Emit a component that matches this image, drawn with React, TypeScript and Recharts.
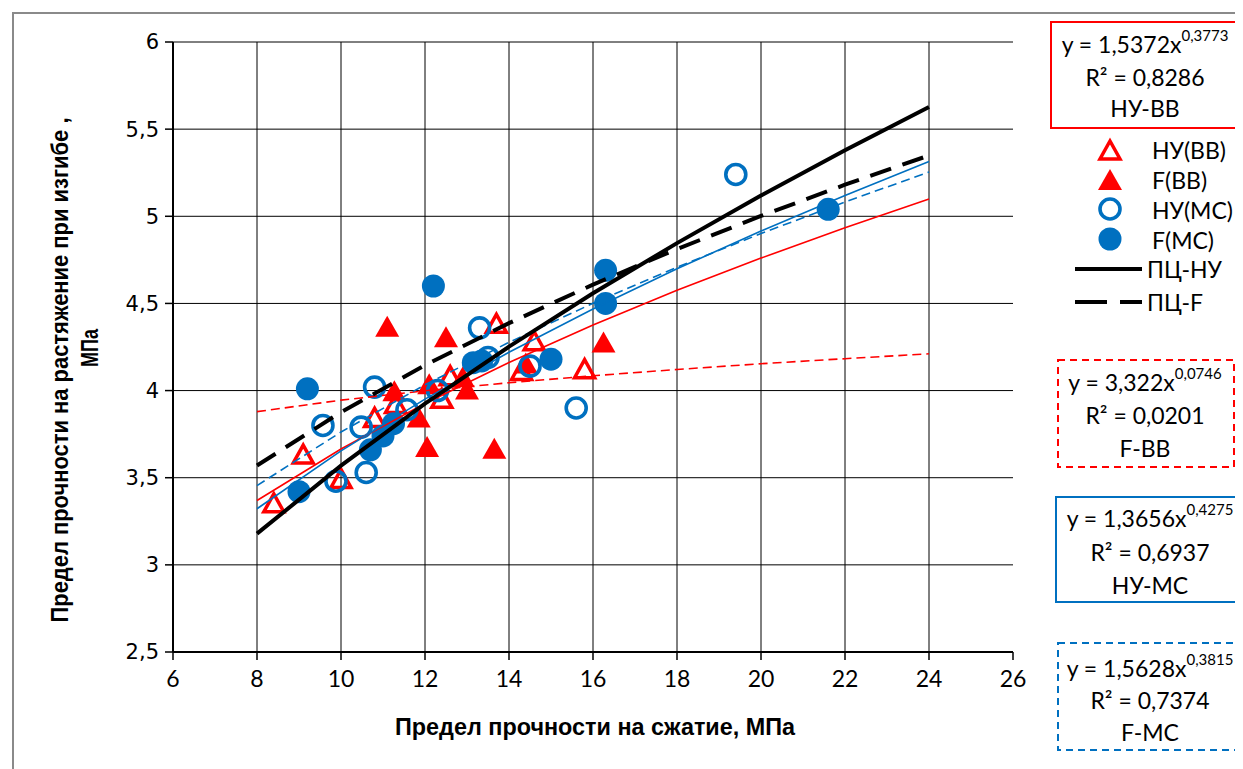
import React from 'react';
import { ScatterChart, Scatter, XAxis, YAxis, CartesianGrid, Label } from 'recharts';

// ---------- data ----------
const xTicks = [6, 8, 10, 12, 14, 16, 18, 20, 22, 24, 26];
const yTicks = [2.5, 3, 3.5, 4, 4.5, 5, 5.5, 6];
const xGrid = [8, 10, 12, 14, 16, 18, 20, 22, 24];
const yGrid = [3, 3.5, 4, 4.5, 5, 5.5, 6];

// НУ(ВВ) – open red triangles
const nuBB = [
  { x: 8.4, y: 3.35 }, { x: 9.1, y: 3.63 }, { x: 10.0, y: 3.49 }, { x: 10.8, y: 3.84 },
  { x: 11.3, y: 3.92 }, { x: 12.4, y: 3.95 }, { x: 12.6, y: 4.08 }, { x: 13.7, y: 4.38 },
  { x: 14.3, y: 4.11 }, { x: 14.6, y: 4.28 }, { x: 15.8, y: 4.12 },
];
// F(ВВ) – filled red triangles
const fBB = [
  { x: 11.1, y: 4.36 }, { x: 11.27, y: 3.99 }, { x: 11.85, y: 3.84 }, { x: 12.05, y: 3.67 },
  { x: 12.1, y: 4.03 }, { x: 12.5, y: 4.3 }, { x: 12.9, y: 4.07 }, { x: 13.0, y: 4.0 },
  { x: 13.65, y: 3.66 }, { x: 14.4, y: 4.15 }, { x: 16.25, y: 4.27 },
];
// НУ(МС) – open blue circles
const nuMC = [
  { x: 9.57, y: 3.8 }, { x: 9.88, y: 3.48 }, { x: 10.48, y: 3.79 }, { x: 10.6, y: 3.53 },
  { x: 10.8, y: 4.02 }, { x: 11.57, y: 3.89 }, { x: 12.3, y: 4.0 }, { x: 13.3, y: 4.36 },
  { x: 13.5, y: 4.19 }, { x: 14.5, y: 4.14 }, { x: 15.6, y: 3.9 }, { x: 19.4, y: 5.24 },
];
// F(МС) – filled blue circles
const fMC = [
  { x: 9.0, y: 3.42 }, { x: 9.2, y: 4.01 }, { x: 10.7, y: 3.66 }, { x: 11.0, y: 3.74 },
  { x: 11.25, y: 3.81 }, { x: 12.2, y: 4.6 }, { x: 13.15, y: 4.16 }, { x: 13.35, y: 4.17 },
  { x: 15.0, y: 4.18 }, { x: 16.3, y: 4.5 }, { x: 16.3, y: 4.69 }, { x: 21.6, y: 5.04 },
];

// trend lines (values read along x = 8..24)
const trendX = [8, 10, 12, 14, 16, 18, 20, 22, 24];
const trendNuBB = [3.369, 3.665, 3.926, 4.161, 4.376, 4.575, 4.76, 4.934, 5.099];
const trendFBB = [3.879, 3.945, 3.999, 4.045, 4.085, 4.121, 4.154, 4.183, 4.211];
const trendNuMC = [3.322, 3.654, 3.951, 4.22, 4.468, 4.699, 4.915, 5.119, 5.314];
const trendFMC = [3.455, 3.762, 4.033, 4.277, 4.501, 4.708, 4.901, 5.082, 5.254];
const trendPcNu = [3.179, 3.569, 3.925, 4.252, 4.558, 4.846, 5.119, 5.379, 5.627];
const trendPcF = [3.57, 3.876, 4.145, 4.387, 4.608, 4.812, 5.002, 5.181, 5.349];

const toPts = (ys: number[]) => trendX.map((x, i) => ({ x, y: ys[i] }));

const RED = '#FF0000';
const BLUE = '#0070C0';
const TXT = "Lato, 'Open Sans', sans-serif";
const BOLD = "'Liberation Sans', Arial, sans-serif";

// ---------- shapes ----------
const OpenTri = (p: any) => (
  <path d={`M${p.cx},${p.cy - 10} L${p.cx + 10},${p.cy + 8} L${p.cx - 10},${p.cy + 8} Z`}
    fill="none" stroke={RED} strokeWidth={3.5} strokeLinejoin="miter" />
);
const FillTri = (p: any) => (
  <path d={`M${p.cx},${p.cy - 12} L${p.cx + 12},${p.cy + 9} L${p.cx - 12},${p.cy + 9} Z`} fill={RED} />
);
const OpenCirc = (p: any) => (
  <circle cx={p.cx} cy={p.cy} r={10} fill="none" stroke={BLUE} strokeWidth={3.6} />
);
const FillCirc = (p: any) => <circle cx={p.cx} cy={p.cy} r={11.5} fill={BLUE} />;
const NoDot = () => <g />;

const fmt = (v: number) => String(v).replace('.', ',');

const EqText = ({ x, y, a, b }: any) => (
  <text x={x} y={y} textAnchor="middle" dominantBaseline="central" fontFamily={TXT} fontSize={23} fill="#000">
    y = {a}x<tspan fontSize={15} dy={-9}>{b}</tspan>
  </text>
);

const Box = ({ x, y, w, h, color, dashed }: any) => (
  <rect x={x} y={y} width={w} height={h} fill="#fff" stroke={color} strokeWidth={2}
    strokeDasharray={dashed ? '7 5' : undefined} />
);

const T = ({ x, y, children, anchor = 'middle' }: any) => (
  <text x={x} y={y} textAnchor={anchor} dominantBaseline="central" fontFamily={TXT} fontSize={23} fill="#000">{children}</text>
);

const Overlay = () => (
  <svg width={1235} height={761} style={{ position: 'absolute', left: 0, top: 0, pointerEvents: 'none' }}>
    {/* box 1 */}
    <Box x={1043} y={14} w={189} h={106} color={RED} />
    <EqText x={1137} y={36} a="1,5372" b="0,3773" />
    <T x={1137} y={69}>R² = 0,8286</T>
    <T x={1137} y={100}>НУ-ВВ</T>

    {/* legend */}
    <OpenTri cx={1102} cy={143} />
    <T x={1144} y={142} anchor="start">НУ(ВВ)</T>
    <FillTri cx={1102} cy={173} />
    <T x={1144} y={172} anchor="start">F(ВВ)</T>
    <OpenCirc cx={1102} cy={201} />
    <T x={1144} y={202} anchor="start">НУ(МС)</T>
    <FillCirc cx={1102} cy={231} />
    <T x={1144} y={232} anchor="start">F(МС)</T>
    <line x1={1067} y1={261} x2={1134} y2={261} stroke="#000" strokeWidth={4} />
    <T x={1139} y={261} anchor="start">ПЦ-НУ</T>
    <line x1={1067} y1={294} x2={1134} y2={294} stroke="#000" strokeWidth={4} strokeDasharray="32 13" />
    <T x={1139} y={294} anchor="start">ПЦ-F</T>

    {/* box 2 */}
    <Box x={1050} y={352} w={176} h={107} color={RED} dashed />
    <EqText x={1137} y={374} a="3,322" b="0,0746" />
    <T x={1137} y={407}>R² = 0,0201</T>
    <T x={1137} y={440}>F-ВВ</T>

    {/* box 3 */}
    <Box x={1048} y={489} w={200} h={105} color={BLUE} />
    <EqText x={1142} y={510} a="1,3656" b="0,4275" />
    <T x={1142} y={544}>R² = 0,6937</T>
    <T x={1142} y={577}>НУ-МС</T>

    {/* box 4 */}
    <Box x={1050} y={635} w={200} h={107} color={BLUE} dashed />
    <EqText x={1142} y={660} a="1,5628" b="0,3815" />
    <T x={1142} y={692}>R² = 0,7374</T>
    <T x={1142} y={724}>F-МС</T>
  </svg>
);

export default function App() {
  return (
    <div style={{ position: 'relative', width: 1235, height: 761, background: '#fff', overflow: 'hidden' }}>
      <div style={{ position: 'absolute', left: 4, top: 4, width: 1300, height: 900, borderLeft: '2px solid #8a8a8a', borderTop: '2px solid #8a8a8a' }} />
      <ScatterChart width={1235} height={761} margin={{ top: 34, right: 230, bottom: 67, left: 100 }}>
        <CartesianGrid stroke="#000" strokeWidth={1} verticalValues={xGrid} horizontalValues={yGrid} />
        <XAxis type="number" dataKey="x" domain={[6, 26]} ticks={xTicks} interval={0}
          height={50} tickSize={8} tickMargin={11} allowDataOverflow
          axisLine={{ stroke: '#000', strokeWidth: 2 }} tickLine={{ stroke: '#000', strokeWidth: 1.5 }}
          tick={{ fill: '#000', fontSize: 23, fontFamily: TXT }}>
          <Label content={() => (
            <text x={587} y={719} textAnchor="middle" dominantBaseline="central" fontFamily={BOLD} fontWeight="bold"
              fontSize={23} fill="#000" textLength={400} lengthAdjust="spacingAndGlyphs">
              Предел прочности на сжатие, МПа
            </text>
          )} />
        </XAxis>
        <YAxis type="number" dataKey="y" domain={[2.5, 6]} ticks={yTicks} interval={0}
          width={65} tickSize={8} tickMargin={6} allowDataOverflow tickFormatter={fmt}
          axisLine={{ stroke: '#000', strokeWidth: 2 }} tickLine={{ stroke: '#000', strokeWidth: 1.5 }}
          tick={{ fill: '#000', fontSize: 21, fontFamily: "'DejaVu Sans', Verdana, sans-serif" }}>
          <Label content={() => (
            <g fontFamily={BOLD} fontWeight="bold" fontSize={23} fill="#000">
              <text x={52} y={362} textAnchor="middle" dominantBaseline="central" transform="rotate(-90 52 362)"
                textLength={505} lengthAdjust="spacingAndGlyphs">
                Предел прочности на растяжение при изгибе ,
              </text>
              <text x={82} y={340} textAnchor="middle" dominantBaseline="central" transform="rotate(-90 82 340)"
                textLength={38} lengthAdjust="spacingAndGlyphs">
                МПа
              </text>
            </g>
          )} />
        </YAxis>

        <Scatter name="НУ(ВВ)" data={nuBB} shape={OpenTri} isAnimationActive={false} />
        <Scatter name="F(ВВ)" data={fBB} shape={FillTri} isAnimationActive={false} />
        <Scatter name="НУ(МС)" data={nuMC} shape={OpenCirc} isAnimationActive={false} />
        <Scatter name="F(МС)" data={fMC} shape={FillCirc} isAnimationActive={false} />

        <Scatter name="НУ-ВВ" data={toPts(trendNuBB)} shape={NoDot} lineType="joint"
          line={{ stroke: RED, strokeWidth: 1.6 }} isAnimationActive={false} />
        <Scatter name="F-ВВ" data={toPts(trendFBB)} shape={NoDot} lineType="joint"
          line={{ stroke: RED, strokeWidth: 1.6, strokeDasharray: '9 5' }} isAnimationActive={false} />
        <Scatter name="НУ-МС" data={toPts(trendNuMC)} shape={NoDot} lineType="joint"
          line={{ stroke: BLUE, strokeWidth: 1.6 }} isAnimationActive={false} />
        <Scatter name="F-МС" data={toPts(trendFMC)} shape={NoDot} lineType="joint"
          line={{ stroke: BLUE, strokeWidth: 1.6, strokeDasharray: '9 5' }} isAnimationActive={false} />
        <Scatter name="ПЦ-НУ" data={toPts(trendPcNu)} shape={NoDot} lineType="joint"
          line={{ stroke: '#000', strokeWidth: 4 }} isAnimationActive={false} />
        <Scatter name="ПЦ-F" data={toPts(trendPcF)} shape={NoDot} lineType="joint"
          line={{ stroke: '#000', strokeWidth: 4, strokeDasharray: '22 12' }} isAnimationActive={false} />
      </ScatterChart>
      <Overlay />
    </div>
  );
}
